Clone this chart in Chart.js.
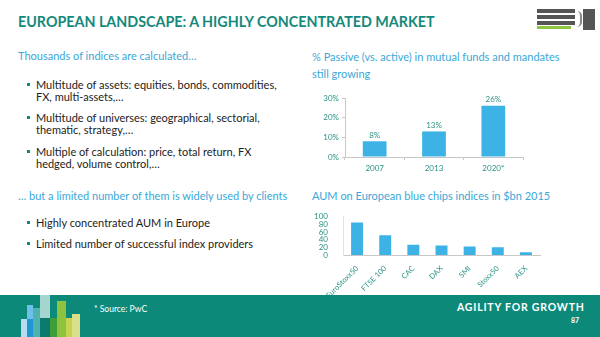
<!DOCTYPE html>
<html>
<head>
<meta charset="utf-8">
<script src="https://cdn.jsdelivr.net/npm/chart.js@4"></script>
<style>
  body { margin: 0; width: 600px; height: 337px; overflow: hidden; background: #fff; font-family: Lato, "Open Sans", sans-serif; position: relative; }
  .abs { position: absolute; white-space: nowrap; }
  .title { left: 18px; top: 13px; font-size: 14.3px; font-weight: bold; color: #13897c; }
  .sub { font-size: 11px; color: #3aa8d8; }
  .bul { font-size: 11px; color: #222; line-height: 11.5px; }
  .bul::before { content: ""; position: absolute; left: -9px; top: 4px; width: 3px; height: 3px; background: #13897c; }
  .foot { left: 0; top: 295px; width: 600px; height: 42px; background: #0d897a; }
  .blk { position: absolute; }
</style>
</head>
<body>
<div class="abs title">EUROPEAN LANDSCAPE: A HIGHLY CONCENTRATED MARKET</div>

<div class="abs blk" style="left:537px;top:9px;width:38px;height:4px;background:#555"></div>
<div class="abs blk" style="left:537px;top:15px;width:38px;height:4px;background:#555"></div>
<div class="abs blk" style="left:537px;top:21px;width:38px;height:4px;background:#555"></div>
<div class="abs blk" style="left:537px;top:26px;width:34px;height:3px;background:#8dc63f"></div>
<div class="abs blk" style="left:577px;top:11px;width:3px;height:16px;border-right:2px solid #888;border-radius:0 8px 8px 0"></div>
<div class="abs blk" style="left:583px;top:9px;width:12px;height:21px;background:#555"></div>

<div class="abs sub" style="left:18px;top:49px">Thousands of indices are calculated…</div>
<div class="abs bul" style="left:36px;top:79px">Multitude of assets: equities, bonds, commodities,<br>FX, multi-assets,…</div>
<div class="abs bul" style="left:36px;top:112px">Multitude of universes: geographical, sectorial,<br>thematic, strategy,…</div>
<div class="abs bul" style="left:36px;top:146px">Multiple of calculation: price, total return, FX<br>hedged, volume control,…</div>
<div class="abs sub" style="left:18px;top:189px">… but a limited number of them is widely used by clients</div>
<div class="abs bul" style="left:36px;top:217px">Highly concentrated AUM in Europe</div>
<div class="abs bul" style="left:36px;top:238px">Limited number of successful index providers</div>

<div class="abs sub" style="left:312px;top:48px;line-height:17px">% Passive (vs. active) in mutual funds and mandates<br>still growing</div>
<div class="abs sub" style="left:312px;top:189px">AUM on European blue chips indices in $bn 2015</div>

<div class="abs" style="left:300px;top:85px;width:240px;height:100px"><canvas id="passive"></canvas></div>
<div class="abs" style="left:300px;top:205px;width:250px;height:90px"><canvas id="aum"></canvas></div>

<div class="abs foot"></div>
<div class="abs blk" style="left:21px;top:319px;width:6px;height:18px;background:#b7dcf2"></div>
<div class="abs blk" style="left:27px;top:305px;width:6px;height:14px;background:#6cc0ea"></div>
<div class="abs blk" style="left:27px;top:319px;width:6px;height:18px;background:#1f95d4"></div>
<div class="abs blk" style="left:33px;top:308px;width:7px;height:29px;background:#4fb3ad"></div>
<div class="abs blk" style="left:40px;top:295px;width:10px;height:23px;background:#a5d5cf"></div>
<div class="abs blk" style="left:40px;top:318px;width:10px;height:19px;background:#0b7a6e"></div>
<div class="abs blk" style="left:50px;top:318px;width:7px;height:19px;background:#3f9e38"></div>
<div class="abs blk" style="left:57px;top:301px;width:9px;height:36px;background:#8cc43f"></div>
<div class="abs blk" style="left:66px;top:318px;width:6px;height:19px;background:#c5d34e"></div>
<div class="abs blk" style="left:72px;top:314px;width:8px;height:23px;background:#dadf8c"></div>
<div class="abs" style="left:94px;top:304px;font-size:8.5px;color:#fff">* Source: PwC</div>
<div class="abs" style="left:457px;top:301px;font-size:10.5px;font-weight:bold;color:#fff;letter-spacing:0.8px">AGILITY FOR GROWTH</div>
<div class="abs" style="left:571px;top:316px;font-size:7px;font-weight:bold;color:#fff">87</div>

<script>
const passiveYears = ['2007', '2013', '2020*'];
const passiveShare = [8, 13, 26];
const passiveTicks = [0, 10, 20, 30];

const indexNames = ['EuroStoxx50', 'FTSE 100', 'CAC', 'DAX', 'SMI', 'Stoxx50', 'AEX'];
const indexAum = [85, 52, 27, 25, 22, 20, 7];
const aumTicks = [0, 20, 40, 60, 80, 100];

const teal = '#2a9285';
const barBlue = '#3cb3e4';
const axisGrey = '#c8c8c8';

Chart.defaults.font.family = 'Lato, "Open Sans", sans-serif';
Chart.defaults.animation = false;

const valueLabels = {
    id: 'valueLabels',
    afterDatasetsDraw(chart) {
        const ctx = chart.ctx;
        const meta = chart.getDatasetMeta(0);
        ctx.save();
        ctx.fillStyle = teal;
        ctx.font = '8px Lato, sans-serif';
        ctx.textAlign = 'center';
        ctx.textBaseline = 'bottom';
        meta.data.forEach((bar, i) => {
            ctx.fillText(chart.data.datasets[0].data[i] + '%', bar.x, bar.y - 2);
        });
        ctx.restore();
    }
};

new Chart(document.getElementById('passive'), {
    type: 'bar',
    data: {
        labels: passiveYears,
        datasets: [{ data: passiveShare, backgroundColor: barBlue, barPercentage: 0.8, categoryPercentage: 0.5 }]
    },
    options: {
        responsive: true,
        maintainAspectRatio: false,
        layout: { padding: { top: 13, right: 17, left: 0, bottom: 0 } },
        plugins: { legend: { display: false }, tooltip: { enabled: false } },
        scales: {
            x: {
                grid: { display: true, drawOnChartArea: false, color: axisGrey, tickLength: 3, offset: true },
                border: { color: axisGrey },
                ticks: { color: teal, font: { size: 8 }, padding: 4 },
                afterFit: s => { s.height = 28; }
            },
            y: {
                min: 0, max: 30,
                afterBuildTicks: s => { s.ticks = passiveTicks.map(v => ({ value: v })); },
                grid: { display: true, drawOnChartArea: false, color: axisGrey, tickLength: 3 },
                border: { color: axisGrey },
                ticks: { color: teal, font: { size: 8 }, padding: 3, callback: v => v + '%' },
                afterFit: s => { s.width = 45; }
            }
        }
    },
    plugins: [valueLabels]
});

new Chart(document.getElementById('aum'), {
    type: 'bar',
    data: {
        labels: indexNames,
        datasets: [{ data: indexAum, backgroundColor: barBlue, barPercentage: 0.85, categoryPercentage: 0.5 }]
    },
    options: {
        responsive: true,
        maintainAspectRatio: false,
        layout: { padding: { top: 6, right: 10, left: 0, bottom: 0 } },
        plugins: { legend: { display: false }, tooltip: { enabled: false } },
        scales: {
            x: {
                grid: { display: false },
                border: { color: axisGrey },
                ticks: { color: teal, font: { size: 7.5 }, minRotation: 45, maxRotation: 45, autoSkip: false, padding: 1 },
                afterFit: s => { s.height = 40; }
            },
            y: {
                min: 0, max: 100,
                afterBuildTicks: s => { s.ticks = aumTicks.map(v => ({ value: v })); },
                grid: { display: false },
                border: { color: '#e2e2e2' },
                ticks: { color: teal, font: { size: 8 }, padding: 7, autoSkip: false },
                afterFit: s => { s.width = 43; }
            }
        }
    }
});
</script>
</body>
</html>
